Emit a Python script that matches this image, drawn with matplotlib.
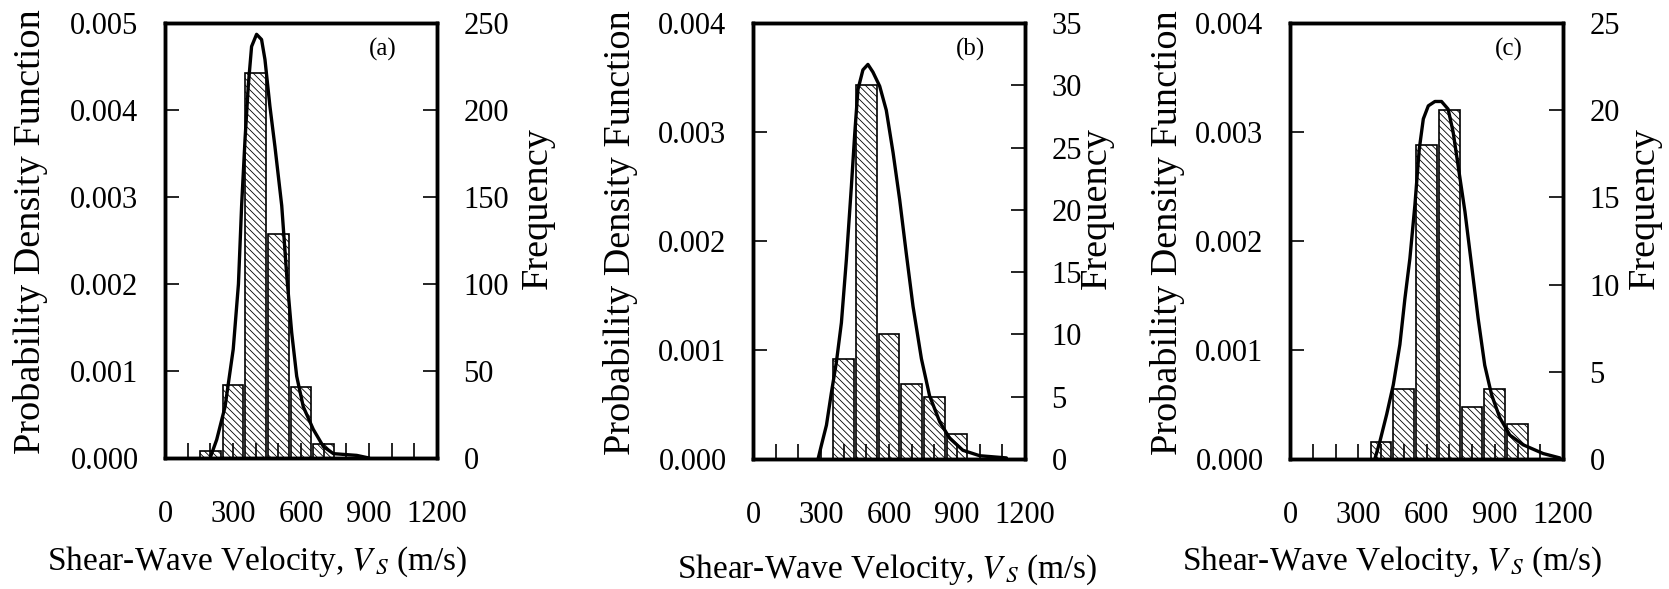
import matplotlib.pyplot as plt
import numpy as np

plt.rcParams['font.family'] = ['Liberation Serif', 'DejaVu Serif']
plt.rcParams['mathtext.fontset'] = 'stix'
plt.rcParams['hatch.linewidth'] = 0.6

# ---- data ----
a_bins = [200, 300, 400, 500, 600, 700]
a_freq = [4, 42, 221, 129, 41, 8]
a_cx = [199, 228, 265, 301, 324, 338, 353, 368, 382, 404, 426, 441, 463, 485,
        515, 537, 559, 581, 610, 654, 699, 743, 846, 900]
a_pdf = [0.0, 0.00021, 0.00059, 0.00125, 0.0020, 0.0029, 0.00366, 0.0043,
         0.00473, 0.00487, 0.00481, 0.00458, 0.00404, 0.00358, 0.0029, 0.0021,
         0.00144, 0.00094, 0.00059, 0.00033, 0.00013, 0.00005, 0.00003, 0.0]

b_bins = [400, 500, 600, 700, 800, 900]
b_freq = [8, 30, 10, 6, 5, 2]
b_cx = [287, 301, 324, 346, 368, 390, 412, 434, 449, 463, 485, 507, 529, 559,
        588, 618, 647, 676, 706, 743, 779, 824, 868, 926, 1000, 1118]
b_pdf = [0.0, 0.00012, 0.00031, 0.00061, 0.00089, 0.00125, 0.00183, 0.0025,
         0.00299, 0.00339, 0.00357, 0.00362, 0.00355, 0.00342, 0.0032, 0.00281,
         0.00238, 0.00189, 0.0014, 0.00092, 0.00058, 0.00034, 0.00019, 0.00008,
         0.00003, 0.00001]

c_bins = [400, 500, 600, 700, 800, 900, 1000]
c_freq = [1, 4, 18, 20, 3, 4, 2]
c_cx = [373, 395, 425, 454, 483, 505, 527, 549, 568, 586, 608, 637, 666, 695,
        717, 739, 769, 798, 827, 856, 886, 922, 966, 1025, 1113, 1186]
c_pdf = [0.0, 0.00016, 0.00041, 0.00068, 0.00105, 0.00147, 0.00184, 0.00233,
         0.00284, 0.00312, 0.00324, 0.00328, 0.00328, 0.00321, 0.003, 0.00269,
         0.00227, 0.00178, 0.00129, 0.00086, 0.00059, 0.00038, 0.00022,
         0.00013, 0.00005, 0.00001]

panels = [
    ('(a)', a_bins, a_freq, a_cx, a_pdf, 0.005, 250, 50),
    ('(b)', b_bins, b_freq, b_cx, b_pdf, 0.004, 35, 5),
    ('(c)', c_bins, c_freq, c_cx, c_pdf, 0.004, 25, 5),
]

W, H = 1669, 589
fig = plt.figure(figsize=(W / 100, H / 100), dpi=100)

# axes boxes in pixels: left, right, top, bottom
boxes = [(165, 437, 23, 458), (753, 1025, 23, 459), (1290, 1563, 23, 459)]
left_lab_x = [31, 621, 1167]
right_lab_x = [538, 1097, 1645]
xlab_pos = [(257, 562), (887, 570), (1392, 562)]

fs = 22
for i, (tag, bins, freq, cx, pdf, ymax, fmax, fstep) in enumerate(panels):
    l, r, t, b = boxes[i]
    ax = fig.add_axes([l / W, 1 - b / H, (r - l) / W, (b - t) / H])
    ax2 = ax.twinx()

    ax2.bar(bins, freq, width=92, color='white', edgecolor='black',
            linewidth=1.2, hatch='\\' * 5)
    ax.plot(cx, pdf, color='black', lw=2.4, solid_capstyle='round')
    ax.set_zorder(ax2.get_zorder() + 1)
    ax.patch.set_visible(False)

    ax.set_xlim(0, 1200)
    ax.set_ylim(0, ymax)
    ax2.set_ylim(0, fmax)
    ax.set_xticks(np.arange(0, 1201, 300))
    ax.set_xticks(np.arange(0, 1201, 100), minor=True)
    ax.set_yticks(np.arange(0, ymax + 1e-9, 0.001))
    ax.set_yticklabels(['%.3f' % v for v in np.arange(0, ymax + 1e-9, 0.001)])
    ax2.set_yticks(np.arange(0, fmax + 1, fstep))

    ax.tick_params(axis='x', which='both', direction='in', length=11,
                   width=1.2, pad=30, labelsize=fs)
    ax.tick_params(axis='y', direction='in', length=10, width=1.2, pad=19,
                   labelsize=fs)
    ax2.tick_params(axis='y', direction='in', length=10, width=1.2, pad=19,
                    labelsize=fs)
    for a in (ax, ax2):
        for s in a.spines.values():
            s.set_linewidth(2.5)

    ax.text(0.80, 0.94, tag, transform=ax.transAxes, fontsize=18,
            ha='center', va='center')

    ax.set_xlabel(r'Shear-Wave Velocity, $V_{\,S}$ (m/s)', fontsize=24)
    xl, yl = xlab_pos[i]
    ax.xaxis.set_label_coords((xl - l) / (r - l), -(yl - b) / (b - t))
    ax.xaxis.label.set_va('center')
    ax.set_ylabel('Probability Density Function', fontsize=27.5)
    ax.yaxis.set_label_coords((left_lab_x[i] - l) / (r - l), 0.52)
    ax.yaxis.label.set_va('center')
    ax2.set_ylabel('Frequency', fontsize=27.5)
    ax2.yaxis.set_label_coords((right_lab_x[i] - l) / (r - l), 0.575)
    ax2.yaxis.label.set_va('center')

fig.savefig('out.png', dpi=100)
